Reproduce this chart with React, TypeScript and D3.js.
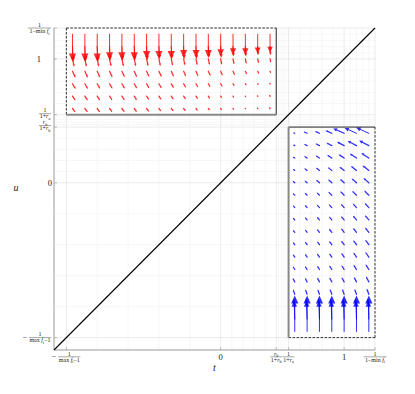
import React from "react";
import * as d3 from "d3";

// axis ticks (same on t and u)
const tickValues = [-1.25, 0, 0.45, 0.55, 1, 1.25];
const tickLabels = [
  { neg: true, num: "1", den: "max f_i−1", w: 22 },
  { text: "0" },
  { num: "r_b", den: "1+r_b", w: 12 },
  { num: "1", den: "1+r_a", w: 12 },
  { text: "1" },
  { num: "1", den: "1−min f_i", w: 23 },
];

// red field (upper-left box): columns t, rows u
const redT = [-1.2, -1.1, -1.0, -0.9, -0.8, -0.7, -0.6, -0.5, -0.4, -0.3, -0.2, -0.1, 0, 0.1, 0.2, 0.3, 0.4];
const redU = [1.2, 1.1, 1.0, 0.9, 0.8, 0.7, 0.6];
// angle from straight down, turning toward +t (degrees)
const redAngle = [0, 3, 12, 25, 30, 33, 37];
const redLen = [
  [0.22, 0.22, 0.22, 0.21, 0.21, 0.21, 0.2, 0.2, 0.2, 0.19, 0.19, 0.19, 0.18, 0.17, 0.17, 0.16, 0.15],
  [0.12, 0.12, 0.12, 0.11, 0.11, 0.11, 0.11, 0.1, 0.1, 0.1, 0.1, 0.09, 0.09, 0.08, 0.08, 0.07, 0.07],
  [0.065, 0.065, 0.064, 0.063, 0.062, 0.061, 0.06, 0.058, 0.056, 0.054, 0.052, 0.05, 0.047, 0.044, 0.04, 0.036, 0.032],
  [0.057, 0.056, 0.055, 0.054, 0.053, 0.052, 0.051, 0.05, 0.048, 0.046, 0.044, 0.041, 0.038, 0.034, 0.029, 0.024, 0.018],
  [0.05, 0.049, 0.048, 0.047, 0.046, 0.045, 0.044, 0.042, 0.04, 0.038, 0.035, 0.032, 0.028, 0.023, 0.018, 0.013, 0.009],
  [0.044, 0.043, 0.042, 0.041, 0.04, 0.039, 0.037, 0.035, 0.033, 0.031, 0.028, 0.025, 0.021, 0.017, 0.013, 0.009, 0.006],
  [0.04, 0.039, 0.038, 0.037, 0.036, 0.035, 0.033, 0.031, 0.029, 0.027, 0.024, 0.021, 0.018, 0.014, 0.011, 0.008, 0.005],
];

// blue field (lower-right box)
const blueT = [0.6, 0.7, 0.8, 0.9, 1.0, 1.1, 1.2];
const blueU = [0.4, 0.3, 0.2, 0.1, 0, -0.1, -0.2, -0.3, -0.4, -0.5, -0.6, -0.7, -0.8, -0.9, -1.0, -1.1, -1.2];
// angle from straight up, turning toward -t (degrees)
const blueAngle = [66, 62, 57, 52, 48, 45, 42, 40, 38, 36, 34, 32, 28, 20, 8, 2, 0];
const blueLen = [
  [0.016, 0.032, 0.04, 0.057, 0.097, 0.105, 0.113],
  [0.016, 0.028, 0.036, 0.049, 0.065, 0.081, 0.089],
  [0.02, 0.028, 0.036, 0.045, 0.053, 0.065, 0.073],
  [0.02, 0.028, 0.036, 0.04, 0.049, 0.057, 0.065],
  [0.024, 0.028, 0.036, 0.04, 0.045, 0.053, 0.057],
  [0.024, 0.028, 0.032, 0.04, 0.045, 0.049, 0.053],
  [0.024, 0.028, 0.032, 0.036, 0.04, 0.045, 0.049],
  [0.024, 0.028, 0.032, 0.036, 0.04, 0.045, 0.049],
  [0.024, 0.028, 0.032, 0.036, 0.04, 0.045, 0.049],
  [0.026, 0.03, 0.032, 0.036, 0.04, 0.045, 0.049],
  [0.028, 0.03, 0.034, 0.036, 0.04, 0.045, 0.049],
  [0.03, 0.032, 0.034, 0.038, 0.04, 0.045, 0.049],
  [0.034, 0.036, 0.038, 0.04, 0.042, 0.045, 0.049],
  [0.042, 0.042, 0.042, 0.045, 0.045, 0.045, 0.049],
  [0.065, 0.065, 0.065, 0.065, 0.065, 0.065, 0.065],
  [0.15, 0.15, 0.15, 0.15, 0.15, 0.15, 0.15],
  [0.29, 0.29, 0.29, 0.29, 0.29, 0.29, 0.29],
];

const W = 415,
  H = 394;
const lo = -1.35,
  hi = 1.25;
const x = d3.scaleLinear().domain([lo, hi]).range([54, 375]);
const y = d3.scaleLinear().domain([lo, hi]).range([350, 28]);

const serif = "'Liberation Serif', 'DejaVu Serif', serif";

// minor ticks: 4 between each pair of major ticks
const minorTicks: number[] = [];
for (let i = 0; i < tickValues.length - 1; i++) {
  const a = tickValues[i],
    b = tickValues[i + 1];
  for (let k = 1; k <= 4; k++) minorTicks.push(a + ((b - a) * k) / 5);
}

// "f_i" -> italic f with subscript i
function MathText({ s, px, py, size, anchor = "middle" }: any) {
  const parts: any[] = [];
  const re = /([a-z])_([a-z])/g;
  let last = 0;
  let m;
  let pend = 0;
  let key = 0;
  while ((m = re.exec(s)) !== null) {
    if (m.index > last) {
      parts.push(
        <tspan key={key++} dy={pend}>
          {s.slice(last, m.index)}
        </tspan>
      );
      pend = 0;
    }
    parts.push(
      <tspan key={key++} dy={pend} fontStyle="italic">
        {m[1]}
      </tspan>
    );
    parts.push(
      <tspan key={key++} dy={size * 0.3} fontSize={size * 0.7}>
        {m[2]}
      </tspan>
    );
    pend = -size * 0.3;
    last = m.index + m[0].length;
  }
  if (last < s.length)
    parts.push(
      <tspan key={key++} dy={pend}>
        {s.slice(last)}
      </tspan>
    );
  return (
    <text x={px} y={py} fontSize={size} textAnchor={anchor} fontFamily={serif} fill="#222">
      {parts}
    </text>
  );
}

function Frac({ cx, cy, lab }: any) {
  const fs = 6;
  return (
    <g>
      {lab.neg && (
        <text x={cx - lab.w / 2 - 2} y={cy + 2.5} fontSize={8} textAnchor="end" fontFamily={serif} fill="#222">
          −
        </text>
      )}
      <MathText s={lab.num} px={cx} py={cy - 1.2} size={fs} />
      <line x1={cx - lab.w / 2} x2={cx + lab.w / 2} y1={cy} y2={cy} stroke="#222" strokeWidth={0.4} />
      <MathText s={lab.den} px={cx} py={cy + 4.8} size={fs} />
    </g>
  );
}

function arrow(t: number, u: number, dt: number, du: number, color: string, key: string) {
  const x0 = x(t),
    y0 = y(u),
    x1 = x(t + dt),
    y1 = y(u + du);
  const L = Math.hypot(x1 - x0, y1 - y0);
  if (L < 0.3) return null;
  const ux = (x1 - x0) / L,
    uy = (y1 - y0) / L;
  const hl = Math.max(Math.min(L * 0.33, 8), 1.4);
  const hw = hl * 0.45;
  const bx = x1 - ux * hl,
    by = y1 - uy * hl;
  const head = `M${x1},${y1}L${bx - uy * hw},${by + ux * hw}L${bx + uy * hw},${by - ux * hw}Z`;
  return (
    <g key={key} opacity={0.82}>
      <line x1={x0} y1={y0} x2={bx} y2={by} stroke={color} strokeWidth={L > 12 ? 1 : 1.25} strokeLinecap="round" />
      <path d={head} fill={color} />
    </g>
  );
}

export default function App() {
  const rad = Math.PI / 180;
  const redArrows: any[] = [];
  redU.forEach((u, i) =>
    redT.forEach((t, j) => {
      const L = redLen[i][j];
      const a = redAngle[i] * rad;
      redArrows.push(arrow(t, u, L * Math.sin(a), -L * Math.cos(a), "#ff0000", `r${i}-${j}`));
    })
  );
  const blueArrows: any[] = [];
  blueU.forEach((u, i) =>
    blueT.forEach((t, j) => {
      const L = blueLen[i][j];
      const a = blueAngle[i] * rad;
      blueArrows.push(arrow(t, u, -L * Math.sin(a), L * Math.cos(a), "#0000ff", `b${i}-${j}`));
    })
  );

  const [x0, x1] = x.range();
  const [y0, y1] = y.range();
  const dash = "2.5,1.5";

  return (
    <svg width={W} height={H} style={{ position: "absolute", left: 0, top: 0, background: "#fff" }}>
      {/* grid */}
      {minorTicks.map((v, i) => (
        <g key={"mn" + i} stroke="#efefef" strokeWidth={0.5}>
          <line x1={x(v)} x2={x(v)} y1={y0} y2={y1} />
          <line x1={x0} x2={x1} y1={y(v)} y2={y(v)} />
        </g>
      ))}
      {tickValues.map((v, i) => (
        <g key={"mj" + i} stroke="#dedede" strokeWidth={0.6}>
          <line x1={x(v)} x2={x(v)} y1={y0} y2={y1} />
          <line x1={x0} x2={x1} y1={y(v)} y2={y(v)} />
        </g>
      ))}

      {/* axes */}
      <line x1={x0} x2={x1} y1={y0} y2={y0} stroke="#999" strokeWidth={1} />
      <line x1={x0} x2={x0} y1={y0} y2={y1} stroke="#999" strokeWidth={1} />
      {tickValues.map((v, i) => (
        <g key={"tk" + i} stroke="#999" strokeWidth={0.6}>
          <line x1={x(v)} x2={x(v)} y1={y0} y2={y0 - 3} />
          <line x1={x0} x2={x0 + 3} y1={y(v)} y2={y(v)} />
        </g>
      ))}

      {/* diagonal u = t */}
      <line x1={x(lo)} y1={y(lo)} x2={x(hi)} y2={y(hi)} stroke="#000" strokeWidth={1.1} />

      {/* vector fields */}
      {redArrows}
      {blueArrows}

      {/* red box */}
      <line x1={x(-1.25)} x2={x(0.45)} y1={y(1.25)} y2={y(1.25)} stroke="#000" strokeWidth={0.8} strokeDasharray={dash} />
      <line x1={x(-1.25)} x2={x(-1.25)} y1={y(1.25)} y2={y(0.55)} stroke="#000" strokeWidth={0.8} strokeDasharray={dash} />
      <line x1={x(0.45)} x2={x(0.45)} y1={y(1.25)} y2={y(0.55)} stroke="#111" strokeWidth={0.9} />
      <line x1={x(-1.25)} x2={x(0.45)} y1={y(0.55)} y2={y(0.55)} stroke="#888" strokeWidth={2} />

      {/* blue box */}
      <line x1={x(0.55)} x2={x(1.25)} y1={y(0.45)} y2={y(0.45)} stroke="#111" strokeWidth={0.9} />
      <line x1={x(1.25)} x2={x(1.25)} y1={y(0.45)} y2={y(-1.25)} stroke="#000" strokeWidth={0.8} strokeDasharray={dash} />
      <line x1={x(0.55)} x2={x(1.25)} y1={y(-1.25)} y2={y(-1.25)} stroke="#000" strokeWidth={0.8} strokeDasharray={dash} />
      <line x1={x(0.55)} x2={x(0.55)} y1={y(0.45)} y2={y(-1.25)} stroke="#888" strokeWidth={2} />

      {/* x tick labels */}
      {tickValues.map((v, i) => {
        const lab: any = tickLabels[i];
        if (lab.text)
          return (
            <text key={"xl" + i} x={x(v)} y={359.5} fontSize={8.5} textAnchor="middle" fontFamily={serif} fill="#222">
              {lab.text}
            </text>
          );
        const shift = lab.neg ? 3 : 0;
        return <Frac key={"xl" + i} cx={x(v) + shift} cy={356.8} lab={lab} />;
      })}

      {/* y tick labels */}
      {tickValues.map((v, i) => {
        const lab: any = tickLabels[i];
        if (lab.text)
          return (
            <text
              key={"yl" + i}
              x={lab.text === "1" ? 41 : 52}
              y={y(v) + 3}
              fontSize={8.5}
              textAnchor="end"
              fontFamily={serif}
              fill="#222"
            >
              {lab.text}
            </text>
          );
        const cy = v === 0.45 ? y(v) - 1.5 : v === 0.55 ? y(v) - 1 : y(v);
        return <Frac key={"yl" + i} cx={51 - lab.w / 2} cy={cy} lab={lab} />;
      })}

      {/* axis labels */}
      <text x={214.5} y={371} fontSize={10} fontStyle="italic" textAnchor="middle" fontFamily={serif} fill="#222">
        t
      </text>
      <text x={16} y={191} fontSize={10} fontStyle="italic" textAnchor="middle" fontFamily={serif} fill="#222">
        u
      </text>
    </svg>
  );
}
